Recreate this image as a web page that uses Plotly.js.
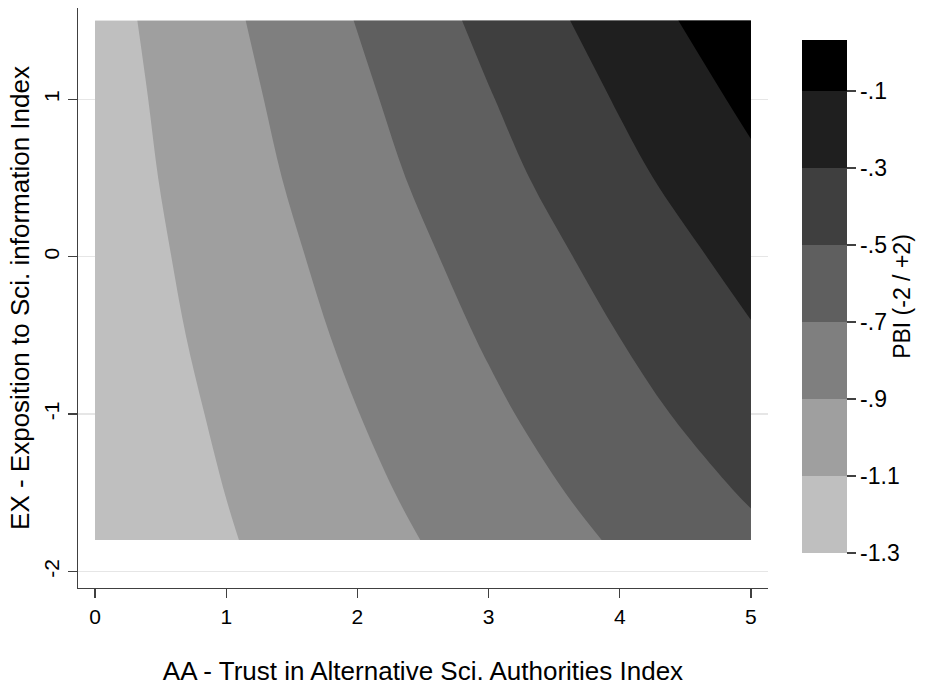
<!DOCTYPE html>
<html><head><meta charset="utf-8">
<script src="https://cdn.plot.ly/plotly-3.0.1.min.js"></script>
<style>html,body{margin:0;padding:0;background:#fff;}#chart{width:949px;height:693px;}</style>
</head><body><div id="chart"></div>
<script>
// AA index (x) and EX index (y) grid
const aaValues = [0, 1, 2, 3, 4, 5];
const exValues = [-1.8, -1.5, -1.0, -0.5, 0, 0.5, 1.0, 1.5];
// Predicted PBI, one row per EX value
const pbiAtExM18 = [-1.258, -1.114, -0.969, -0.825, -0.680, -0.536];
const pbiAtExM15 = [-1.252, -1.098, -0.944, -0.790, -0.636, -0.482];
const pbiAtExM10 = [-1.241, -1.072, -0.903, -0.734, -0.565, -0.396];
const pbiAtExM05 = [-1.226, -1.044, -0.862, -0.680, -0.498, -0.316];
const pbiAtEx00  = [-1.214, -1.018, -0.822, -0.626, -0.430, -0.234];
const pbiAtExP05 = [-1.202, -0.990, -0.778, -0.566, -0.354, -0.142];
const pbiAtExP10 = [-1.192, -0.965, -0.738, -0.511, -0.284, -0.057];
const pbiAtExP15 = [-1.178, -0.936, -0.693, -0.451, -0.208, 0.034];
const pbiGrid = [pbiAtExM18, pbiAtExM15, pbiAtExM10, pbiAtExM05, pbiAtEx00, pbiAtExP05, pbiAtExP10, pbiAtExP15];

const levelCuts = [-1.3, -1.1, -0.9, -0.7, -0.5, -0.3, -0.1];
const levelLabels = ['-1.3', '-1.1', '-.9', '-.7', '-.5', '-.3', '-.1'];
const bandColors = ['#bfbfbf', '#9f9f9f', '#7f7f7f', '#5f5f5f', '#3f3f3f', '#1f1f1f', '#000000'];
const colorbarTop = 0.032;
const xTicks = [0, 1, 2, 3, 4, 5];
const yTicks = [-2, -1, 0, 1];

const FONT = 'Liberation Sans, Arial, sans-serif';
const step = levelCuts[1] - levelCuts[0];

// contour fill colour scale (plotly samples band mid-points over [start-step/2, end+step/2])
const sampleColors = [bandColors[0]].concat(bandColors);
const nS = sampleColors.length - 1;
const contourScale = [];
for (let i = 0; i <= nS; i++) {
  const lo = i === 0 ? 0 : (i - 0.5) / nS;
  const hi = i === nS ? 1 : (i + 0.5) / nS;
  contourScale.push([lo, sampleColors[i]], [hi, sampleColors[i]]);
}

// stepped colour bar scale
const span = colorbarTop - levelCuts[0];
const barScale = [];
for (let i = 0; i < bandColors.length; i++) {
  const lo = (levelCuts[i] - levelCuts[0]) / span;
  const hi = i < levelCuts.length - 1 ? (levelCuts[i + 1] - levelCuts[0]) / span : 1;
  barScale.push([lo, bandColors[i]], [hi, bandColors[i]]);
}

const contourTrace = {
  type: 'contour',
  x: aaValues, y: exValues, z: pbiGrid,
  autocontour: false,
  contours: {start: levelCuts[0], end: levelCuts[levelCuts.length - 1], size: step, coloring: 'fill', showlines: false},
  line: {width: 0},
  colorscale: contourScale,
  showscale: false,
  hoverinfo: 'x+y+z'
};

const barTrace = {
  type: 'heatmap',
  x: [100, 101], y: [100],
  z: [[levelCuts[0], colorbarTop]],
  zmin: levelCuts[0], zmax: colorbarTop,
  colorscale: barScale,
  hoverinfo: 'skip',
  showscale: true,
  colorbar: {
    thickness: 45, thicknessmode: 'pixels',
    len: 0.8845, lenmode: 'fraction',
    x: 1.0493, xanchor: 'left', xpad: 0,
    y: 0.0603, yanchor: 'bottom', ypad: 0,
    outlinewidth: 0,
    tickmode: 'array', tickvals: levelCuts, ticktext: levelLabels,
    ticks: 'outside', ticklen: 9, tickwidth: 1.3, tickcolor: '#404040',
    tickfont: {family: FONT, size: 23, color: '#000'},
    title: {text: 'PBI (-2 / +2)', side: 'right', font: {family: FONT, size: 23, color: '#000'}}
  }
};

const layout = {
  width: 949, height: 693,
  margin: {l: 78, r: 181, t: 8, b: 105, pad: 0},
  paper_bgcolor: '#fff', plot_bgcolor: '#fff',
  font: {family: FONT, color: '#000'},
  showlegend: false,
  xaxis: {
    range: [-0.13, 5.13], autorange: false,
    tickmode: 'array', tickvals: xTicks, ticktext: xTicks.map(String),
    ticks: 'outside', ticklen: 9, tickwidth: 1.3, tickcolor: '#404040',
    showline: true, linecolor: '#404040', linewidth: 1.3,
    showgrid: false, zeroline: false,
    tickfont: {family: FONT, size: 21, color: '#000'},
    title: {text: 'AA - Trust in Alternative Sci. Authorities Index', font: {family: FONT, size: 26, color: '#000'}, standoff: 35}
  },
  yaxis: {
    range: [-2.105, 1.58], autorange: false,
    tickmode: 'array', tickvals: yTicks, ticktext: yTicks.map(String),
    tickangle: -90,
    ticks: 'outside', ticklen: 9, tickwidth: 1.3, tickcolor: '#404040',
    showline: true, linecolor: '#404040', linewidth: 1.3,
    showgrid: true, gridcolor: '#e6e6e6', gridwidth: 1.5, zeroline: false,
    tickfont: {family: FONT, size: 21, color: '#000'},
    title: {text: 'EX - Exposition to Sci. information Index', font: {family: FONT, size: 26, color: '#000'}, standoff: 3}
  }
};

Plotly.newPlot('chart', [contourTrace, barTrace], layout, {displayModeBar: false, staticPlot: true});
</script>
</body></html>
